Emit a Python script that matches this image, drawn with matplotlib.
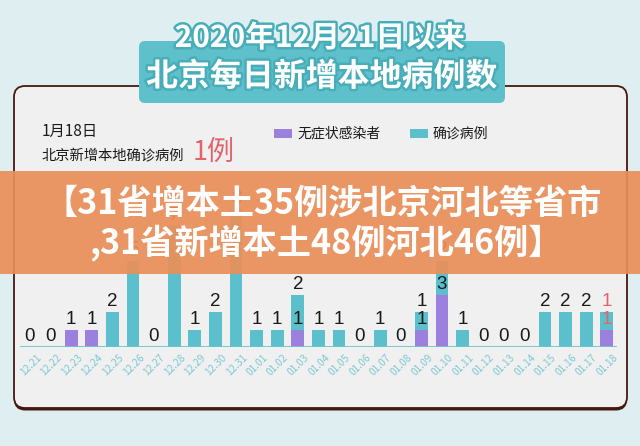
import matplotlib
matplotlib.use("Agg")
import matplotlib.pyplot as plt
import matplotlib.patheffects as pe
from matplotlib.patches import FancyBboxPatch, Rectangle
from matplotlib.transforms import ScaledTranslation
import numpy as np

plt.rcParams['font.family'] = ['Noto Sans CJK SC', 'DejaVu Sans']

# ── data ────────────────────────────────────────────────────────────────
dates = ["12.21", "12.22", "12.23", "12.24", "12.25", "12.26", "12.27",
         "12.28", "12.29", "12.30", "12.31", "01.01", "01.02", "01.03",
         "01.04", "01.05", "01.06", "01.07", "01.08", "01.09", "01.10",
         "01.11", "01.12", "01.13", "01.14", "01.15", "01.16", "01.17",
         "01.18"]
confirmed = [0, 0, 0, 0, 2, 5, 0, 7, 1, 2, 8,
             1, 1, 2, 1, 1, 0, 1, 0, 1, 2, 1, 0, 0, 0, 2, 2, 2, 1]
asymptomatic = [0, 0, 1, 1, 0, 0, 0, 0, 0, 0, 0,
                0, 0, 1, 0, 0, 0, 0, 0, 1, 3, 0, 0, 0, 0, 0, 0, 0, 1]

title1 = "2020年12月21日以来"
title2 = "北京每日新增本地病例数"
banner1 = "【31省增本土35例涉北京河北等省市"
banner2 = ",31省新增本土48例河北46例】"

TEAL = "#5cc0cc"
PURPLE = "#9b80de"
RED = "#e0646a"
BG = "#deeef1"

# ── figure in pixel units ────────────────────────────────────────────────
W, H = 640, 446
fig = plt.figure(figsize=(W / 100, H / 100), dpi=100)
fig.patch.set_facecolor(BG)

back = fig.add_axes([0, 0, 1, 1])
back.set_xlim(0, W); back.set_ylim(H, 0); back.axis("off")
back.set_zorder(0)

# panel with a small shadow at the bottom
back.add_patch(FancyBboxPatch((14, 87.5), 613, 323, boxstyle="round,pad=0,rounding_size=11",
                              fc="#45190f", ec="none"))
back.add_patch(FancyBboxPatch((14, 86), 613, 322, boxstyle="round,pad=0,rounding_size=11",
                              fc="#f0f0f0", ec="#45190f", lw=1.3))

# title box
back.add_patch(FancyBboxPatch((139, 41), 366, 62, boxstyle="round,pad=0,rounding_size=6",
                              fc="#5ec0cb", ec="none"))
stroke = [pe.withStroke(linewidth=3.5, foreground="#46adb9")]
back.text(320, 38, title1, ha="center", va="center", fontsize=21.5,
          fontweight="bold", color="white", path_effects=stroke)
back.text(322, 77, title2, ha="center", va="center", fontsize=23,
          fontweight="bold", color="white", path_effects=stroke)

# header
back.text(42, 131, "1月18日", ha="left", va="center", fontsize=11, color="#1a1a1a")
back.text(42, 156, "北京新增本地确诊病例", ha="left", va="center", fontsize=10.3, color="#1a1a1a")
back.text(193, 152, "1例", ha="left", va="center", fontsize=19.5, color=RED)

# legend
back.add_patch(Rectangle((274, 129), 18, 9, fc=PURPLE, ec="none"))
back.text(297, 133.5, "无症状感染者", ha="left", va="center", fontsize=10, color="#1a1a1a")
back.add_patch(Rectangle((410, 129), 18, 9, fc=TEAL, ec="none"))
back.text(433, 133.5, "确诊病例", ha="left", va="center", fontsize=10, color="#1a1a1a")

# ── bar chart ───────────────────────────────────────────────────────────
x0, x1 = 19.7, 617.1
base_px, unit_px, ymax = 347, 17.3, 10
ax = fig.add_axes([x0 / W, (H - base_px) / H, (x1 - x0) / W, unit_px * ymax / H])
ax.set_zorder(1)
ax.patch.set_alpha(0)
ax.set_xlim(-0.5, len(dates) - 0.5)
ax.set_ylim(0, ymax)
for s in ax.spines.values():
    s.set_visible(False)
ax.set_yticks([])

x = np.arange(len(dates))
conf = np.array(confirmed)
asym = np.array(asymptomatic)
ax.bar(x, asym, width=0.63, color=PURPLE, zorder=2)
ax.bar(x, conf, width=0.63, bottom=asym, color=TEAL, zorder=2)
ax.axhline(0, color="#6cc4cd", lw=2, zorder=3)

lab = dict(ha="center", va="bottom", fontsize=13.5, family="Liberation Sans",
           textcoords="offset points", xytext=(0, 1.5), zorder=4)
for i in x:
    c = RED if i == len(dates) - 1 else "#1a1a1a"
    if conf[i] + asym[i] == 0:
        ax.annotate("0", (i, 0), color=c, **lab)
        continue
    if asym[i] > 0:
        ax.annotate(str(asym[i]), (i, asym[i]), color=c, **lab)
    if conf[i] > 0:
        ax.annotate(str(conf[i]), (i, asym[i] + conf[i]), color=c, **lab)

ax.set_xticks(x, dates, rotation=45, ha="right", rotation_mode="anchor",
              fontsize=7.3, color="#7cc8d1")
ax.tick_params(axis="x", length=0, pad=4)
shift = ScaledTranslation(0.06, 0, fig.dpi_scale_trans)
for t in ax.get_xticklabels():
    t.set_transform(t.get_transform() + shift)

# ── banner on top ────────────────────────────────────────────────────────
front = fig.add_axes([0, 0, 1, 1])
front.set_xlim(0, W); front.set_ylim(H, 0); front.axis("off")
front.set_zorder(2)
front.patch.set_alpha(0)
front.add_patch(Rectangle((0, 171), W, 103, fc="#ea8f58", ec="none", alpha=0.92))
front.text(44, 203, banner1, ha="left", va="center", fontsize=24.6,
           fontweight="bold", color="white")
front.text(89, 243, banner2, ha="left", va="center", fontsize=24.6,
           fontweight="bold", color="white")

fig.savefig("out.png", dpi=100, facecolor=fig.get_facecolor())
